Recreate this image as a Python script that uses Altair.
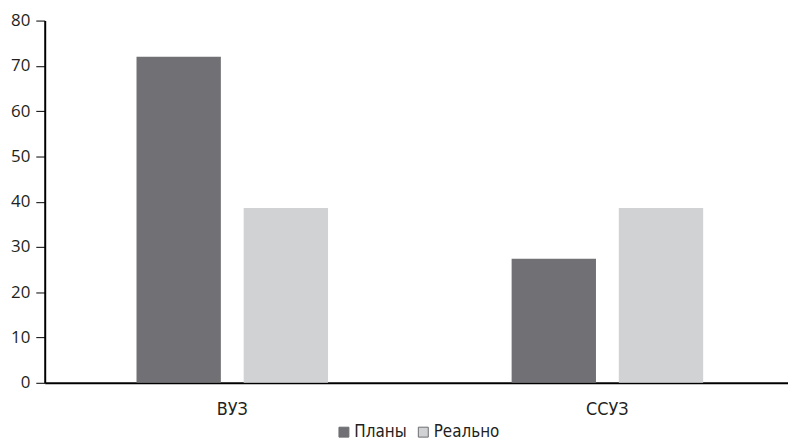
import altair as alt
import pandas as pd

categories = ["ВУЗ", "ССУЗ"]
series = ["Планы", "Реально"]
plans = [72, 27.4]
real = [38.6, 38.6]

rows = []
for i, c in enumerate(categories):
    rows.append({"cat": c, "series": series[0], "value": plans[i]})
    rows.append({"cat": c, "series": series[1], "value": real[i]})
df = pd.DataFrame(rows)

FONT = "Open Sans"
NARROW = "Liberation Sans Narrow, DejaVu Sans Condensed, Open Sans"

chart = alt.Chart(df).mark_bar().encode(
    x=alt.X("cat:N", sort=categories, title=None,
            scale=alt.Scale(paddingInner=0, paddingOuter=0),
            axis=alt.Axis(labelAngle=0, ticks=False, domainColor="#000000",
                          domainWidth=2, labelFontSize=18, labelFont=NARROW,
                          labelFontWeight="normal",
                          labelColor="#231f20", labelPadding=18)),
    xOffset=alt.XOffset("series:N", sort=series,
                        scale=alt.Scale(paddingInner=0.213, paddingOuter=0.8565)),
    y=alt.Y("value:Q", title=None,
            scale=alt.Scale(domain=[0, 80]),
            axis=alt.Axis(values=[0, 10, 20, 30, 40, 50, 60, 70, 80], grid=False,
                          domainColor="#000000", domainWidth=2, tickColor="#000000",
                          tickSize=9, labelFontSize=17, labelFont=FONT,
                          labelColor="#231f20", labelPadding=6)),
    color=alt.Color("series:N", sort=series, title=None,
                    scale=alt.Scale(domain=series, range=["#717175", "#d1d2d4"]),
                    legend=alt.Legend(orient="none", direction="horizontal",
                                      legendX=293, legendY=406,
                                      symbolType="square", symbolSize=100,
                                      symbolStrokeColor="#6d6e71", symbolStrokeWidth=1,
                                      labelFontSize=17, labelFont=NARROW,
                                      labelColor="#231f20", columnPadding=8,
                                      labelOffset=2)),
).properties(
    width=756, height=365,
    autosize=alt.AutoSizeParams(type="none"),
    padding={"left": 37, "top": 11, "right": -7, "bottom": 59},
).configure(background="white").configure_view(stroke=None)

chart.save("out.html", embed_options={"renderer": "svg", "actions": False})
